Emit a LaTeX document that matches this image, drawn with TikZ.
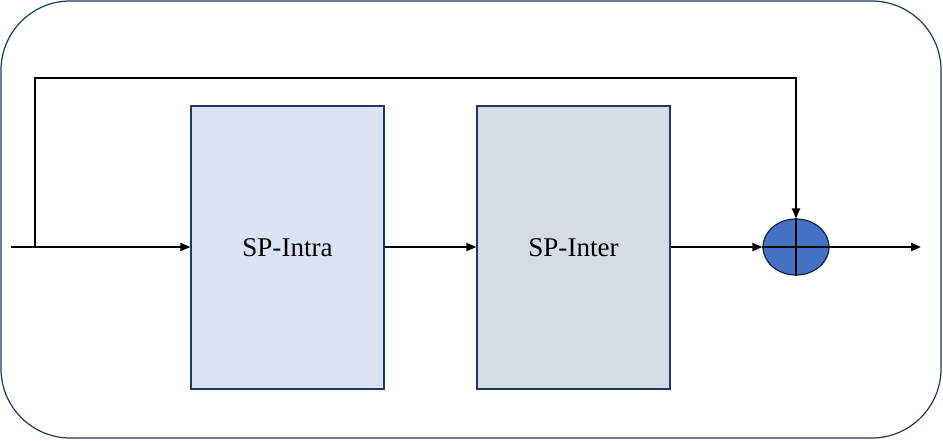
\documentclass[tikz,border=0pt]{standalone}
\usepackage{fontspec}
\setmainfont{Liberation Serif}
\usetikzlibrary{arrows.meta,shapes.geometric}
\definecolor{navy}{HTML}{1F3864}
\definecolor{boxa}{HTML}{DAE3F3}
\definecolor{boxb}{HTML}{D6DCE5}
\definecolor{sumblue}{HTML}{4472C4}
\tikzset{
  blockbox/.style={draw=navy, line width=0.9pt, minimum width=193*0.75pt, minimum height=283*0.75pt, inner sep=0pt, font=\fontsize{20.3}{24}\selectfont},
  conn/.style={line width=1.5pt, -{Triangle[length=7.5pt,width=6pt]}},
}
\begin{document}
\begin{tikzpicture}[x=0.75pt,y=-0.75pt]
\useasboundingbox (0,0) rectangle (943,440);
\draw[navy, line width=0.9pt, rounded corners=52pt] (1,1) rectangle (941,438);
\node[blockbox, fill=boxa] (intra) at (287.5,247.5) {SP-Intra};
\node[blockbox, fill=boxb] (inter) at (573.5,247.5) {SP-Inter};
\node[ellipse, draw=navy!60!black, line width=0.9pt, fill=sumblue, minimum width=66*0.75pt, minimum height=56*0.75pt, inner sep=0pt] (sum) at (796,247) {};
\draw[line width=1.2pt] (sum.north) -- (sum.south);
\draw[line width=1.2pt] (sum.west) -- (sum.east);
\coordinate (in) at (11,247);
\coordinate (split) at (35,247);
\coordinate (out) at (921,247);
\draw[conn] (in) -- (intra.west |- in);
\draw[conn] (intra.east |- in) -- (inter.west |- in);
\draw[conn] (inter.east |- in) -- (sum.west);
\draw[conn] (sum.east) -- (out);
\draw[conn] (split) -- (35,78) -| (sum.north);
\end{tikzpicture}
\end{document}
